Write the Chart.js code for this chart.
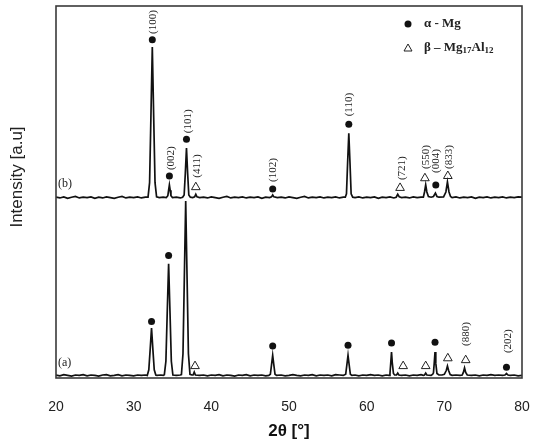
<!DOCTYPE html>
<html><head><meta charset="utf-8">
<script src="https://cdn.jsdelivr.net/npm/chart.js@4.4.0/dist/chart.umd.min.js"></script>
<style>html,body{margin:0;padding:0;background:#fff}#wrap{width:550px;height:446px;position:relative}</style>
</head><body><div id="wrap"><canvas id="c"></canvas></div>
<script>
// 2θ tick labels
const xTicks = [20, 30, 40, 50, 60, 70, 80];

// Pattern (a): [2θ, intensity]
const patternA = [
 [20,8],[20.5,6],[21,9],[21.5,7],[22,5],[22.5,8],[23,7],[23.5,9],[24,6],[24.5,8],[25,7],[25.5,5],[26,8],[26.5,9],[27,6],[27.5,7],[28,9],[28.5,6],[29,8],[29.5,7],[30,6],[30.5,8],[31,7],[31.5,8],
 [31.75,7],[31.95,22],[32.12,75],[32.3,134],[32.48,75],[32.65,22],[32.85,8],
 [33,7],[33.5,8],[33.8,7],
 [33.95,9],[34.15,45],[34.32,175],[34.5,307],[34.68,175],[34.85,45],[35.05,8],
 [35.5,7],[36,8],
 [36.15,9],[36.35,65],[36.52,265],[36.7,476],[36.88,265],[37.05,65],[37.25,10],
 [37.5,8],[37.65,8],[37.8,16],[37.95,8],
 [38.5,7],[39,8],[39.5,6],[40,8],[40.5,7],[41,9],[41.5,6],[42,8],[42.5,7],[43,5],[43.5,8],[44,7],[44.5,9],[45,6],[45.5,8],[46,7],[46.5,8],[47,6],[47.4,7],
 [47.6,10],[47.75,35],[47.9,61],[48.05,35],[48.2,10],[48.4,7],
 [49,8],[49.5,6],[50,7],[50.5,9],[51,7],[51.5,6],[52,8],[52.5,7],[53,9],[53.5,6],[54,8],[54.5,7],[55,8],[55.5,6],[56,9],[56.5,8],[57,7],
 [57.3,10],[57.45,35],[57.6,61],[57.75,35],[57.9,10],[58.1,7],
 [58.5,8],[59,6],[59.5,8],[60,7],[60.5,9],[61,7],[61.5,8],[62,6],[62.5,8],[62.9,7],
 [63.0,12],[63.1,40],[63.2,70],[63.3,40],[63.45,12],[63.6,8],
 [63.85,8],[64.0,13],[64.15,8],
 [64.5,7],[65,8],[65.5,6],[66,8],[66.5,7],[67,9],[67.3,7],
 [67.45,8],[67.6,13],[67.75,8],
 [68.3,7],[68.5,10],
 [68.6,14],[68.7,40],[68.8,70],[68.9,40],[69.05,12],[69.3,8],
 [69.7,8],[70.0,10],
 [70.25,20],[70.4,32],[70.55,20],[70.75,9],
 [71,7],[71.5,8],[72,7],[72.3,8],
 [72.45,15],[72.6,27],[72.75,15],[72.95,8],
 [73.5,7],[74,8],[74.5,6],[75,8],[75.5,7],[76,9],[76.5,7],[77,8],[77.5,7],[77.8,8],
 [78.0,12],[78.2,8],
 [78.5,7],[79,8],[79.5,6],[80,7]
];

// Pattern (b): [2θ, intensity]
const patternB = [
 [20,486],[20.5,484],[21,487],[21.5,483],[22,486],[22.5,488],[23,484],[23.5,486],[24,485],[24.5,487],[25,483],[25.5,486],[26,484],[26.5,487],[27,485],[27.5,483],[28,486],[28.5,488],[29,484],[29.5,486],[30,485],[30.5,487],[31,484],[31.5,486],
 [31.85,486],[32.05,525],[32.22,700],[32.4,890],[32.58,700],[32.75,525],[32.95,487],
 [33.3,485],[33.8,486],[34.2,485],
 [34.4,490],[34.5,505],[34.6,519],[34.7,505],[34.8,490],[35.0,485],
 [35.5,486],[36,484],[36.3,486],
 [36.5,492],[36.65,550],[36.8,618],[36.95,550],[37.1,492],[37.3,486],
 [37.6,485],[37.85,487],[38.0,494],[38.15,487],[38.5,485],
 [39,486],[39.5,484],[40,487],[40.5,485],[41,483],[41.5,486],[42,488],[42.5,484],[43,486],[43.5,485],[44,487],[44.5,484],[45,486],[45.5,485],[46,487],[46.5,483],[47,486],[47.5,485],
 [47.75,487],[47.9,492],[48.05,487],
 [48.5,485],[49,486],[49.5,484],[50,487],[50.5,485],[51,483],[51.5,486],[52,488],[52.5,484],[53,486],[53.5,485],[54,487],[54.5,484],[55,486],[55.5,485],[56,487],[56.5,484],[57,486],[57.25,486],
 [57.4,495],[57.55,580],[57.7,658],[57.85,580],[58.0,495],[58.2,486],
 [58.5,485],[59,487],[59.5,484],[60,486],[60.5,485],[61,487],[61.5,483],[62,486],[62.5,485],[63,487],[63.5,484],[63.8,486],
 [64.0,494],[64.2,487],
 [64.5,485],[65,486],[65.5,484],[66,487],[66.5,485],[67,486],[67.3,486],
 [67.45,500],[67.6,519],[67.75,500],[67.95,488],
 [68.3,486],[68.6,488],[68.85,497],[69.05,488],[69.3,486],
 [69.9,487],[70.2,500],[70.4,527],[70.6,500],[70.8,488],
 [71,485],[71.5,487],[72,484],[72.5,486],[73,485],[73.5,487],[74,483],[74.5,486],[75,485],[75.5,487],[76,484],[76.5,486],[77,485],[77.5,487],[78,484],[78.5,486],[79,485],[79.5,487],[80,486]
];

// Phase markers [2θ, intensity]
const alphaMarksA = [[32.3,152],[34.5,329],[47.9,86],[57.6,88],[63.2,94],[68.8,96],[78.0,29]];
const betaMarksA  = [[37.9,32],[64.7,32],[67.6,32],[70.45,53],[72.75,48]];
const alphaMarksB = [[32.4,909],[34.6,543],[36.8,642],[47.9,508],[57.7,682],[68.9,519]];
const betaMarksB  = [[38.0,513],[64.3,511],[67.5,537],[70.45,543]];

// Miller index labels
const planeTexts = ['(100)','(002)','(101)','(411)','(102)','(110)','(721)','(550)','(004)','(833)','(880)','(202)'];
const planeAngles = [32.45,34.8,36.95,38.2,48.0,57.8,64.5,67.6,69.0,70.65,72.8,78.2];
const planeLevels = [957,591,690,570,559,735,564,594,583,594,118,99];

const sampleTexts = ['(b)','(a)'];
const sampleLevels = [521,40];

const yTitle = 'Intensity [a.u]';
const legendTexts = ['α - Mg', 'β – Mg', '17', 'Al', '12'];

const toXY = arr => arr.map(p => ({x: p[0], y: p[1]}));

const annot = {
  id: 'annot',
  afterDatasetsDraw(chart) {
    const {ctx, chartArea: a, scales: {x, y}} = chart;
    ctx.save();
    // frame
    ctx.strokeStyle = '#3a3a3a';
    ctx.lineWidth = 1.6;
    ctx.strokeRect(a.left, a.top, a.right - a.left, a.bottom - a.top);
    // y title
    ctx.save();
    ctx.fillStyle = '#222';
    ctx.font = '17px "Liberation Sans", Arial, sans-serif';
    ctx.textAlign = 'center'; ctx.textBaseline = 'middle';
    ctx.translate(17, (a.top + a.bottom) / 2 - 15);
    ctx.rotate(-Math.PI / 2);
    ctx.fillText(yTitle, 0, 0);
    ctx.restore();
    // plane labels
    ctx.fillStyle = '#222';
    ctx.font = '11px "Liberation Serif", serif';
    ctx.textAlign = 'center';
    ctx.textBaseline = 'middle';
    planeTexts.forEach((t, i) => {
      ctx.save();
      ctx.translate(x.getPixelForValue(planeAngles[i]), y.getPixelForValue(planeLevels[i]));
      ctx.rotate(-Math.PI / 2);
      ctx.fillText(t, 0, 0);
      ctx.restore();
    });
    // sample labels
    ctx.font = '12px "Liberation Serif", serif';
    ctx.textAlign = 'left';
    sampleTexts.forEach((t, i) => {
      ctx.fillText(t, a.left + 2, y.getPixelForValue(sampleLevels[i]));
    });
    // legend
    const lx = a.right - 114, ly1 = a.top + 18, ly2 = a.top + 42;
    ctx.fillStyle = '#111';
    ctx.beginPath(); ctx.arc(lx, ly1, 3.5, 0, Math.PI * 2); ctx.fill();
    ctx.strokeStyle = '#222'; ctx.lineWidth = 1;
    ctx.beginPath();
    ctx.moveTo(lx, ly2 - 4); ctx.lineTo(lx + 4, ly2 + 3); ctx.lineTo(lx - 4, ly2 + 3); ctx.closePath(); ctx.stroke();
    ctx.fillStyle = '#222';
    const big = 'bold 13px "Liberation Serif", serif', small = 'bold 9px "Liberation Serif", serif';
    let tx = lx + 16;
    ctx.font = big; ctx.fillText(legendTexts[0], tx, ly1);
    ctx.fillText(legendTexts[1], tx, ly2); tx += ctx.measureText(legendTexts[1]).width;
    ctx.font = small; ctx.fillText(legendTexts[2], tx, ly2 + 3); tx += ctx.measureText(legendTexts[2]).width;
    ctx.font = big; ctx.fillText(legendTexts[3], tx, ly2); tx += ctx.measureText(legendTexts[3]).width;
    ctx.font = small; ctx.fillText(legendTexts[4], tx, ly2 + 3);
    ctx.restore();
  }
};

const lineDs = (d) => ({data: toXY(d), showLine: true, borderColor: '#111', borderWidth: 1.7, pointRadius: 0, tension: 0, order: 2});
const dotDs = (d) => ({data: toXY(d), showLine: false, pointStyle: 'circle', pointRadius: 3.5, backgroundColor: '#111', borderWidth: 0, order: 1});
const triDs = (d) => ({data: toXY(d), showLine: false, pointStyle: 'triangle', pointRadius: 5, backgroundColor: 'rgba(255,255,255,0)', borderColor: '#222', borderWidth: 1, order: 1});

new Chart(document.getElementById('c'), {
  type: 'scatter',
  data: {
    datasets: [lineDs(patternA), lineDs(patternB), dotDs(alphaMarksA), dotDs(alphaMarksB), triDs(betaMarksA), triDs(betaMarksB)]
  },
  options: {
    responsive: true, maintainAspectRatio: false, animation: false,
    layout: {padding: {top: 4, right: 28, left: 0, bottom: 0}},
    plugins: {legend: {display: false}, tooltip: {enabled: false}},
    scales: {
      x: {
        type: 'linear', min: 20, max: 80,
        afterBuildTicks: s => { s.ticks = xTicks.map(v => ({value: v})); },
        afterFit: s => { s.height = 68; },
        grid: {display: false}, border: {display: false},
        ticks: {color: '#222', font: {family: '"Liberation Sans", Arial, sans-serif', size: 14}, padding: 13, maxRotation: 0},
        title: {display: true, text: '2θ [°]', color: '#111', font: {family: '"Liberation Sans", Arial, sans-serif', size: 17, weight: 'bold'}, padding: {top: 0, bottom: 4}}
      },
      y: {
        min: 0, max: 1000,
        afterFit: s => { s.width = 56; },
        grid: {display: false}, border: {display: false},
        ticks: {display: false},
        title: {display: false}
      }
    }
  },
  plugins: [annot]
});
</script>
</body></html>
